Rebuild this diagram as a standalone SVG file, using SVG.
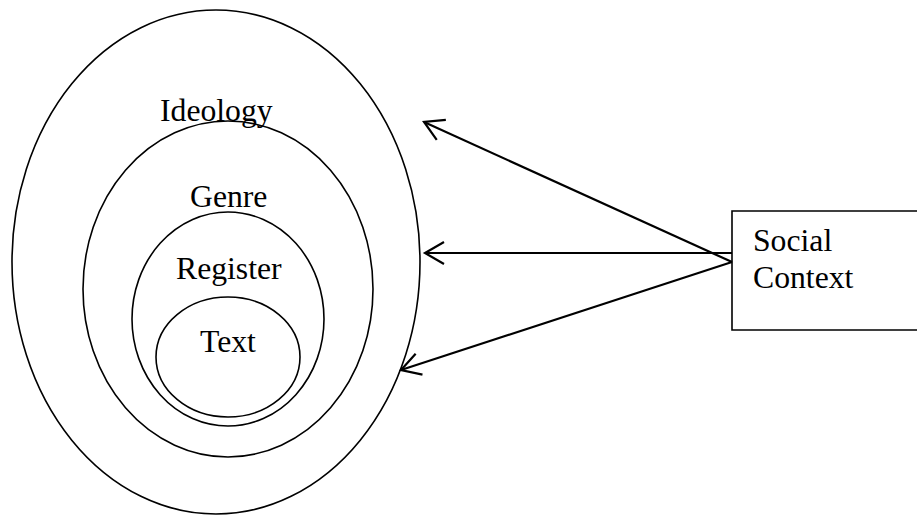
<svg xmlns="http://www.w3.org/2000/svg" width="917" height="515" viewBox="0 0 917 515">
<style>
.ell{fill:none;stroke:#000;stroke-width:1.6}
.lbl{font-family:"Liberation Serif","Times New Roman",serif;font-size:31.7px;fill:#000}
.con{fill:none;stroke:#000;stroke-width:2.2}
</style>
<defs>
<marker id="open" markerUnits="userSpaceOnUse" markerWidth="30" markerHeight="30" refX="0" refY="0" orient="auto" overflow="visible">
<path d="M-19,-11 L0,0 L-19,11" fill="none" stroke="#000" stroke-width="2.2"/>
</marker>
</defs>
<rect width="917" height="515" fill="#fff"/>
<g id="ideology">
<ellipse class="ell" cx="216" cy="262" rx="204" ry="252"/>
<text class="lbl" x="160" y="121">Ideology</text>
</g>
<g id="genre">
<ellipse class="ell" cx="228" cy="289" rx="145" ry="168"/>
<text class="lbl" x="190" y="207">Genre</text>
</g>
<g id="register">
<ellipse class="ell" cx="228" cy="319" rx="96" ry="107"/>
<text class="lbl" x="176" y="279">Register</text>
</g>
<g id="text">
<ellipse class="ell" cx="228" cy="357" rx="72" ry="60"/>
<text class="lbl" x="200" y="352">Text</text>
</g>
<g id="social-context">
<path d="M930,211 H732 V330 H930" fill="none" stroke="#000" stroke-width="1.6"/>
<text class="lbl" x="753" y="251">Social</text>
<text class="lbl" x="753" y="288">Context</text>
</g>
<g id="connectors">
<line class="con" x1="732" y1="262" x2="424" y2="122" marker-end="url(#open)"/>
<line class="con" x1="732" y1="253" x2="425" y2="253" marker-end="url(#open)"/>
<line class="con" x1="732" y1="262" x2="401" y2="370" marker-end="url(#open)"/>
</g>
</svg>
